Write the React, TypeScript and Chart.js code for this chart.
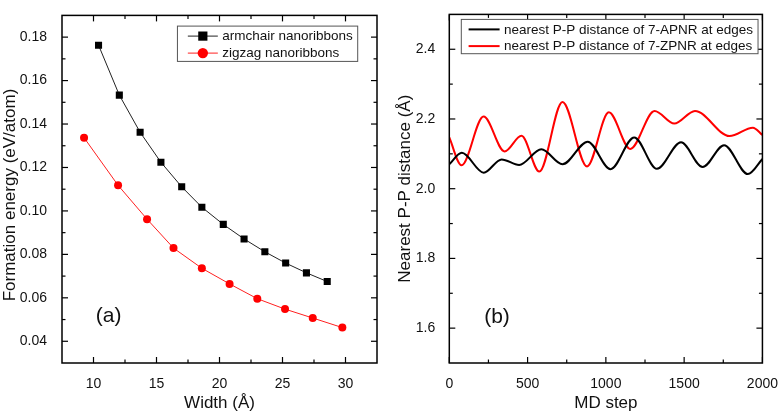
import React, { useEffect, useRef } from "react";
import { Chart, registerables } from "chart.js";

Chart.register(...registerables);

const FONT = "'Liberation Sans', Arial, Helvetica, sans-serif";
const INK = "#111";

// ---------- Panel (a): formation energy vs width ----------
const armchairWidth = [10.4, 12.05, 13.7, 15.35, 17.0, 18.6, 20.3, 21.95, 23.6, 25.25, 26.9, 28.55];
const armchairEnergy = [0.1763, 0.1533, 0.1362, 0.1224, 0.1111, 0.1017, 0.0938, 0.0871, 0.0812, 0.076, 0.0715, 0.0675];
const zigzagWidth = [9.25, 11.95, 14.25, 16.35, 18.6, 20.8, 23.0, 25.2, 27.4, 29.75];
const zigzagEnergy = [0.1337, 0.1118, 0.0962, 0.0829, 0.0736, 0.0664, 0.0596, 0.0548, 0.0507, 0.0463];
const widthTicks = [10, 15, 20, 25, 30];
const energyTicks = [0.04, 0.06, 0.08, 0.1, 0.12, 0.14, 0.16, 0.18];

// ---------- Panel (b): nearest P-P distance vs MD step ----------
const apnrStep = [0, 80, 220, 334, 446, 588, 723, 884, 1030, 1181, 1326, 1480, 1618, 1755, 1907, 2000];
const apnrDist = [2.07, 2.103, 2.046, 2.084, 2.068, 2.113, 2.07, 2.135, 2.056, 2.147, 2.057, 2.133, 2.062, 2.125, 2.042, 2.085];
const zpnrStep = [0, 78, 219, 353, 461, 575, 723, 880, 1019, 1156, 1311, 1437, 1569, 1790, 1939, 2000];
const zpnrDist = [2.147, 2.067, 2.207, 2.107, 2.152, 2.049, 2.249, 2.064, 2.219, 2.114, 2.223, 2.187, 2.223, 2.151, 2.175, 2.154];
const stepTicks = [0, 500, 1000, 1500, 2000];
const distTicks = [1.6, 1.8, 2.0, 2.2, 2.4];

const toPoints = (xs: number[], ys: number[]) => xs.map((x, i) => ({ x, y: ys[i] }));

type FrameOpts = {
  id: string;
  xMinor: number;
  yMinor: number;
  legend: {
    rightInset: number;
    topInset: number;
    rowY: number[];
    lineStart: number;
    lineEnd: number;
    textX: number;
    height: number;
    markerScale: number;
  };
  label: { text: string; dx: number; dy: number };
  yTitle?: { text: string; x: number; y: number };
};

function framePlugin(o: FrameOpts) {
  return {
    id: o.id,
    afterDraw(chart: any) {
      const ctx: CanvasRenderingContext2D = chart.ctx;
      const a = chart.chartArea;
      const xs = chart.scales.x;
      const ys = chart.scales.y;
      ctx.save();
      const seg = (x1: number, y1: number, x2: number, y2: number) => {
        ctx.beginPath();
        ctx.moveTo(x1, y1);
        ctx.lineTo(x2, y2);
        ctx.stroke();
      };
      ctx.strokeStyle = "#000";
      ctx.lineWidth = 1.2;
      const xMaj = xs.ticks.map((t: any) => t.value);
      const yMaj = ys.ticks.map((t: any) => t.value);
      const xTick = (v: number, len: number) => {
        const p = xs.getPixelForValue(v);
        seg(p, a.bottom, p, a.bottom - len);
        seg(p, a.top, p, a.top + len);
      };
      const yTick = (v: number, len: number) => {
        const p = ys.getPixelForValue(v);
        seg(a.left, p, a.left + len, p);
        seg(a.right, p, a.right - len, p);
      };
      xMaj.forEach((v: number) => xTick(v, 6));
      yMaj.forEach((v: number) => yTick(v, 6));
      const minors = (min: number, max: number, step: number, majors: number[]) => {
        const out: number[] = [];
        for (let k = Math.ceil(min / step - 1e-6); k * step <= max + 1e-9; k++) {
          const v = k * step;
          if (majors.some((m) => Math.abs(m - v) < step * 1e-3)) continue;
          if (Math.abs(v - min) < step * 1e-3 || Math.abs(v - max) < step * 1e-3) continue;
          out.push(v);
        }
        return out;
      };
      minors(xs.min, xs.max, o.xMinor, xMaj).forEach((v) => xTick(v, 3.5));
      minors(ys.min, ys.max, o.yMinor, yMaj).forEach((v) => yTick(v, 3.5));

      // frame
      ctx.lineWidth = 1.5;
      ctx.strokeRect(a.left, a.top, a.right - a.left, a.bottom - a.top);

      // legend
      const L = o.legend;
      ctx.font = `13.5px ${FONT}`;
      const dsets = chart.data.datasets;
      const tw = Math.max(...dsets.map((d: any) => ctx.measureText(d.label).width));
      const boxW = L.textX + tw + 5;
      const bx = a.right - L.rightInset - boxW;
      const by = a.top + L.topInset;
      ctx.fillStyle = "#fff";
      ctx.fillRect(bx, by, boxW, L.height);
      ctx.strokeStyle = "#555";
      ctx.lineWidth = 1;
      ctx.strokeRect(bx, by, boxW, L.height);
      dsets.forEach((d: any, i: number) => {
        const y = by + L.rowY[i];
        ctx.strokeStyle = d.borderColor;
        ctx.lineWidth = d.borderWidth;
        seg(bx + L.lineStart, y, bx + L.lineEnd, y);
        if (d.pointRadius > 0) {
          const cx = bx + (L.lineStart + L.lineEnd) / 2;
          ctx.fillStyle = d.pointBackgroundColor;
          const r = d.pointRadius * L.markerScale;
          if (d.pointStyle === "rect") {
            const s = r * Math.SQRT1_2;
            ctx.fillRect(cx - s, y - s, 2 * s, 2 * s);
          } else {
            ctx.beginPath();
            ctx.arc(cx, y, r, 0, Math.PI * 2);
            ctx.fill();
          }
        }
        ctx.fillStyle = INK;
        ctx.textAlign = "left";
        ctx.textBaseline = "middle";
        ctx.fillText(d.label, bx + L.textX, y + 0.5);
      });

      // panel label
      ctx.fillStyle = INK;
      ctx.font = `21px ${FONT}`;
      ctx.textAlign = "center";
      ctx.textBaseline = "middle";
      ctx.fillText(o.label.text, a.left + o.label.dx, a.bottom - o.label.dy);

      // y title (drawn manually when off-centre)
      if (o.yTitle) {
        ctx.save();
        ctx.translate(o.yTitle.x, o.yTitle.y);
        ctx.rotate(-Math.PI / 2);
        ctx.font = `17px ${FONT}`;
        ctx.fillText(o.yTitle.text, 0, 0);
        ctx.restore();
      }
      ctx.restore();
    },
  };
}

const tickFont = { family: FONT, size: 14 };
const titleFont = { family: FONT, size: 17 };

function leftConfig(): any {
  return {
    type: "scatter",
    data: {
      datasets: [
        {
          label: "armchair nanoribbons",
          data: toPoints(armchairWidth, armchairEnergy),
          showLine: true,
          borderColor: "#222",
          borderWidth: 1,
          pointStyle: "rect",
          pointRadius: 5,
          pointBackgroundColor: "#000",
          pointBorderWidth: 0,
          tension: 0,
        },
        {
          label: "zigzag nanoribbons",
          data: toPoints(zigzagWidth, zigzagEnergy),
          showLine: true,
          borderColor: "#ff2020",
          borderWidth: 1,
          pointStyle: "circle",
          pointRadius: 4,
          pointBackgroundColor: "#ff0000",
          pointBorderWidth: 0,
          tension: 0,
        },
      ],
    },
    options: {
      animation: false,
      responsive: false,
      maintainAspectRatio: false,
      events: [],
      layout: { padding: { top: 5, right: 14, left: 0, bottom: 0 } },
      plugins: { legend: { display: false }, tooltip: { enabled: false } },
      scales: {
        x: {
          type: "linear",
          min: 7.5,
          max: 32.5,
          grid: { display: false },
          border: { display: false },
          afterBuildTicks: (s: any) => {
            s.ticks = widthTicks.map((v) => ({ value: v }));
          },
          afterFit: (s: any) => {
            s.height = 54;
          },
          ticks: { font: tickFont, color: INK, padding: 5, maxRotation: 0, callback: (v: any) => String(v) },
          title: { display: true, text: "Width (Å)", font: titleFont, color: INK, padding: { top: 0, bottom: 3 } },
        },
        y: {
          type: "linear",
          min: 0.03,
          max: 0.19,
          grid: { display: false },
          border: { display: false },
          afterBuildTicks: (s: any) => {
            s.ticks = energyTicks.map((v) => ({ value: v }));
          },
          afterFit: (s: any) => {
            s.width = 62;
          },
          ticks: { font: tickFont, color: INK, padding: 7, callback: (v: any) => Number(v).toFixed(2) },
        },
      },
    },
    plugins: [
      framePlugin({
        id: "frameA",
        xMinor: 2.5,
        yMinor: 0.01,
        legend: {
          rightInset: 19.3,
          topInset: 10.7,
          rowY: [10, 27],
          lineStart: 10.4,
          lineEnd: 40.4,
          textX: 44.7,
          height: 35.3,
          markerScale: 1.3,
        },
        label: { text: "(a)", dx: 46.7, dy: 47 },
        yTitle: { text: "Formation energy (eV/atom)", x: 10.5, y: 195 },
      }),
    ],
  };
}

function rightConfig(): any {
  return {
    type: "scatter",
    data: {
      datasets: [
        {
          label: "nearest P-P distance of 7-APNR at edges",
          data: toPoints(apnrStep, apnrDist),
          showLine: true,
          borderColor: "#000",
          borderWidth: 2,
          pointRadius: 0,
          cubicInterpolationMode: "monotone",
        },
        {
          label: "nearest P-P distance of 7-ZPNR at edges",
          data: toPoints(zpnrStep, zpnrDist),
          showLine: true,
          borderColor: "#ff0000",
          borderWidth: 2,
          pointRadius: 0,
          cubicInterpolationMode: "monotone",
        },
      ],
    },
    options: {
      animation: false,
      responsive: false,
      maintainAspectRatio: false,
      events: [],
      layout: { padding: { top: 5, right: 18.3, left: 0, bottom: 0 } },
      plugins: { legend: { display: false }, tooltip: { enabled: false } },
      scales: {
        x: {
          type: "linear",
          min: 0,
          max: 2000,
          grid: { display: false },
          border: { display: false },
          afterBuildTicks: (s: any) => {
            s.ticks = stepTicks.map((v) => ({ value: v }));
          },
          afterFit: (s: any) => {
            s.height = 54;
          },
          ticks: { font: tickFont, color: INK, padding: 5, maxRotation: 0, callback: (v: any) => String(v) },
          title: { display: true, text: "MD step", font: titleFont, color: INK, padding: { top: 0, bottom: 3 } },
        },
        y: {
          type: "linear",
          min: 1.5,
          max: 2.5,
          grid: { display: false },
          border: { display: false },
          afterBuildTicks: (s: any) => {
            s.ticks = distTicks.map((v) => ({ value: v }));
          },
          afterFit: (s: any) => {
            s.width = 58.3;
          },
          ticks: { font: tickFont, color: INK, padding: 6, callback: (v: any) => Number(v).toFixed(1) },
          title: {
            display: true,
            text: "Nearest P-P distance (Å)",
            font: titleFont,
            color: INK,
            padding: { top: 4, bottom: 0 },
          },
        },
      },
    },
    plugins: [
      framePlugin({
        id: "frameB",
        xMinor: 250,
        yMinor: 0.1,
        legend: {
          rightInset: 4.4,
          topInset: 5,
          rowY: [10, 26.7],
          lineStart: 7.3,
          lineEnd: 38.3,
          textX: 42.6,
          height: 34.3,
          markerScale: 1,
        },
        label: { text: "(b)", dx: 47.7, dy: 46 },
      }),
    ],
  };
}

export default function App() {
  const leftRef = useRef<HTMLCanvasElement>(null);
  const rightRef = useRef<HTMLCanvasElement>(null);
  useEffect(() => {
    const c1 = new Chart(leftRef.current as HTMLCanvasElement, leftConfig());
    const c2 = new Chart(rightRef.current as HTMLCanvasElement, rightConfig());
    return () => {
      c1.destroy();
      c2.destroy();
    };
  }, []);
  return (
    <div style={{ position: "absolute", left: 0, top: 0, width: 783, height: 417, background: "#fff" }}>
      <canvas ref={leftRef} width={391} height={417} style={{ position: "absolute", left: 0, top: 0 }} />
      <canvas ref={rightRef} width={392} height={417} style={{ position: "absolute", left: 391, top: 0 }} />
    </div>
  );
}
